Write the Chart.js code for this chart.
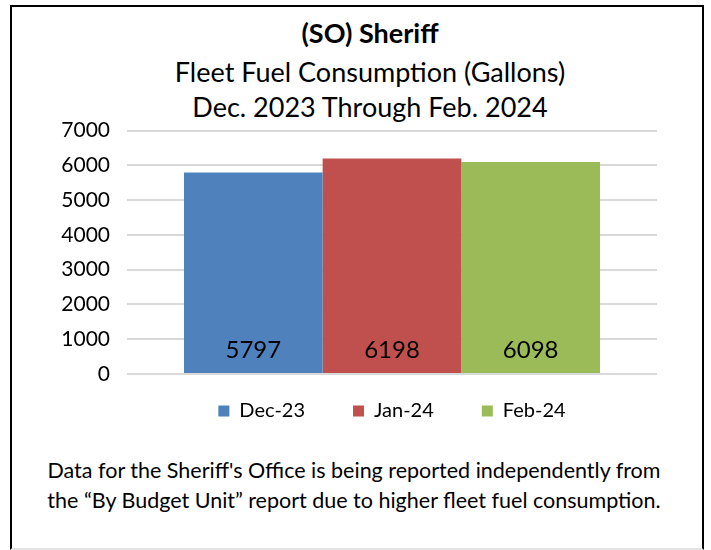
<!DOCTYPE html>
<html>
<head>
<meta charset="utf-8">
<script src="https://cdn.jsdelivr.net/npm/chart.js@4.4.1/dist/chart.umd.min.js"></script>
<style>
  body { margin: 0; background: #fff; font-family: Lato, 'Open Sans', sans-serif; }
  #frame { position: absolute; left: 10px; top: 5px; width: 694px; height: 545px; border: 2px solid #000; border-bottom-color: #E3E3E3; box-sizing: border-box; }
  .title { position: absolute; left: 0; width: 740px; text-align: center; font-size: 27px; line-height: 30px; color: #000; }
  #wrap { position: absolute; left: 0; top: 101px; width: 711px; height: 351px; }
  #note { position: absolute; left: 0; width: 708px; top: 455px; text-align: center; font-size: 21.5px; line-height: 30px; color: #000; }
</style>
</head>
<body>
<div id="frame"></div>
<div class="title" style="top:18px;font-weight:bold">(SO) Sheriff</div>
<div class="title" style="top:57px">Fleet Fuel Consumption (Gallons)</div>
<div class="title" style="top:92px">Dec. 2023 Through Feb. 2024</div>
<div id="wrap"><canvas id="chart"></canvas></div>
<div id="note">Data for the Sheriff's Office is being reported independently from<br>the “By Budget Unit” report due to higher fleet fuel consumption.</div>
<script>
const ctx = document.getElementById('chart').getContext('2d')

Chart.defaults.font.family = 'Lato'
Chart.defaults.color = '#000'

const months = ['Dec-23', 'Jan-24', 'Feb-24']
const gallons = [5797, 6198, 6098]
const colors = ['#4F81BD', '#C0504D', '#9BBB59']
const yTicks = [0, 1000, 2000, 3000, 4000, 5000, 6000, 7000]

// value labels near the bottom of each bar
const barLabels = {
    id: 'barLabels',
    afterDatasetsDraw(chart) {
        const c = chart.ctx
        const y0 = chart.scales.y.getPixelForValue(0)
        c.save()
        c.font = '24px Lato'
        c.fillStyle = '#000'
        c.textAlign = 'center'
        c.textBaseline = 'middle'
        chart.data.datasets.forEach((ds, i) => {
            const bar = chart.getDatasetMeta(i).data[0]
            c.fillText(String(ds.data[0]), bar.x, y0 - 24)
        })
        c.restore()
    }
}

// pull the legend up closer to the plot and center it under the plot area
const legendShift = {
    id: 'legendShift',
    afterLayout(chart) {
        const lg = chart.legend
        const a = chart.chartArea
        const dx = (a.left + a.right) / 2 - (lg.left + lg.right) / 2
        lg.left += dx
        lg.right += dx
        lg.top -= 21
        lg.bottom -= 21
    }
}

new Chart(ctx, {
    type: 'bar',
    data: {
        labels: [''],
        datasets: months.map((m, i) => ({
            label: m,
            data: [gallons[i]],
            backgroundColor: colors[i],
            categoryPercentage: 0.785,
            barPercentage: 1,
        }))
    },
    options: {
        responsive: true,
        maintainAspectRatio: false,
        animation: false,
        layout: { padding: { left: 0, right: 54, top: 5, bottom: 0 } },
        plugins: {
            legend: {
                position: 'bottom',
                labels: { boxWidth: 11, boxHeight: 11, padding: 48, font: { size: 20 } }
            },
            tooltip: { enabled: false },
        },
        scales: {
            x: { display: false },
            y: {
                min: 0,
                max: 7000,
                afterFit: s => { s.width = 127 },
                afterBuildTicks: s => { s.ticks = yTicks.map(v => ({ value: v })) },
                border: { display: false },
                grid: { color: '#D9D9D9', lineWidth: 2, drawTicks: false },
                ticks: { padding: 17, font: { size: 21 }, callback: v => String(v) }
            }
        }
    },
    plugins: [barLabels, legendShift]
})
</script>
</body>
</html>
